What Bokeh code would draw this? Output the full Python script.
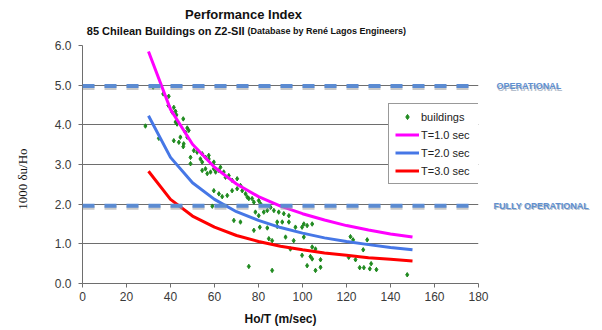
from bokeh.plotting import figure
from bokeh.layouts import column, row
from bokeh.models import Range1d, FixedTicker, Span, Label, Legend, LegendItem, NumeralTickFormatter
from bokeh.embed import file_html
from bokeh.resources import INLINE

# ---------------- data ----------------
bld_x = [32.1, 28.6, 34.7, 36.7, 39.2, 39.0, 41.5, 42.3, 40.8, 42.7, 45.8, 42.3, 43.0, 47.6, 48.3,
         46.8, 44.5, 41.5, 43.8, 46.0, 45.8, 47.6, 50.6, 49.1, 52.1, 54.4, 55.9, 57.4, 53.6, 54.4,
         49.1, 59.7, 57.4, 54.4, 55.9, 56.7, 58.2, 59.7, 60.5, 62.0, 62.7, 64.2, 65.0, 66.5, 68.0,
         70.3, 59.7, 62.0, 63.5, 65.8, 68.0, 70.3, 71.8, 72.6, 74.1, 74.9, 75.6, 77.1, 77.9, 80.1,
         80.9, 78.6, 80.1, 82.4, 84.0, 85.5, 68.8, 71.8, 87.0, 89.2, 91.5, 93.8, 88.5, 90.8, 93.8,
         96.8, 99.8, 100.6, 102.1, 104.4, 92.3, 96.0, 100.6, 86.2, 94.5, 104.4, 105.9, 99.8, 103.6,
         108.2, 104.4, 102.1, 108.2, 105.9, 86.2, 121.8, 123.0, 129.4, 127.6, 121.0, 124.1, 126.0,
         127.9, 130.6, 131.2, 133.6, 147.6, 77.9, 80.6, 84.0, 88.5, 84.7, 75.6, 59.0]
bld_y = [4.95, 3.97, 3.66, 4.78, 4.72, 4.49, 4.44, 4.34, 4.32, 4.25, 4.15, 4.07, 4.02, 3.92, 3.86,
         3.81, 3.69, 3.60, 3.56, 3.52, 3.45, 3.69, 3.35, 3.18, 3.31, 3.27, 3.18, 3.14, 3.14, 3.06,
         3.02, 3.06, 3.23, 2.85, 2.89, 2.77, 2.81, 2.89, 2.81, 2.85, 2.93, 2.81, 2.68, 2.72, 2.60,
         2.64, 2.34, 2.26, 2.19, 2.22, 2.34, 2.39, 2.47, 2.34, 2.26, 2.18, 2.14, 2.14, 2.05, 2.09,
         2.01, 1.80, 1.71, 1.80, 1.84, 1.92, 1.59, 1.55, 1.84, 1.80, 1.76, 1.71, 1.55, 1.55, 1.55,
         1.42, 1.42, 1.50, 1.46, 1.50, 1.17, 1.08, 1.17, 1.08, 0.87, 0.92, 0.87, 0.71, 0.68,
         0.60, 0.62, 0.45, 0.41, 0.33, 0.33, 1.18, 1.10, 1.10, 0.85, 0.66, 0.60, 0.40,
         0.40, 0.37, 0.50, 0.35, 0.22, 1.34, 1.42, 1.40, 1.44, 1.13, 0.43, 1.95]

curve_x = [30, 40, 50, 60, 70, 80, 90, 100, 110, 120, 130, 140, 150]
t1_y = [5.85, 4.39, 3.51, 2.93, 2.51, 2.19, 1.95, 1.76, 1.60, 1.46, 1.35, 1.25, 1.17]
t2_y = [4.23, 3.18, 2.54, 2.12, 1.81, 1.59, 1.41, 1.27, 1.15, 1.06, 0.98, 0.91, 0.85]
t3_y = [2.83, 2.12, 1.70, 1.42, 1.21, 1.06, 0.94, 0.85, 0.77, 0.71, 0.65, 0.61, 0.57]

x_ticks = [0, 20, 40, 60, 80, 100, 120, 140, 160, 180]
y_ticks = [0, 1, 2, 3, 4, 5, 6]
operational_level = 4.98
fully_operational_level = 1.96

SANS = "Liberation Sans"


def bare(width, height, xr, yr, **kw):
    f = figure(width=width, height=height, output_backend="svg", toolbar_location=None,
               x_range=xr, y_range=yr, x_axis_type=None, y_axis_type=None,
               min_border_left=0, min_border_right=0, **kw)
    f.outline_line_color = None
    f.grid.visible = False
    f.background_fill_color = "white"
    f.border_fill_color = "white"
    return f


def lab(f, x, y, text, size, color="#111111", font=SANS, style="normal", align="center",
        baseline="middle"):
    f.add_layout(Label(x=x, y=y, text=text, text_font=font, text_font_size=size,
                       text_color=color, text_font_style=style, text_align=align,
                       text_baseline=baseline))


# ---------------- header (titles) ----------------
head = bare(602, 37, Range1d(0, 602), Range1d(0, 37), min_border_top=0, min_border_bottom=0)
lab(head, 243, 23, "Performance Index", "13px", style="bold")
lab(head, 244, 7, "85 Chilean Buildings on Z2-SII", "11px", style="bold", align="right")
lab(head, 247, 7, "(Database by René Lagos Engineers)", "9px", style="bold", align="left")

# ---------------- main chart ----------------
p = figure(width=492, height=293, output_backend="svg", toolbar_location=None,
           x_range=Range1d(0, 180), y_range=Range1d(0, 6),
           min_border_left=82, min_border_right=14, min_border_top=8, min_border_bottom=47)
p.outline_line_color = None
p.background_fill_color = "white"
p.border_fill_color = "white"

for ax in (p.xaxis[0], p.yaxis[0]):
    ax.axis_line_color = "#6e6e6e"
    ax.major_tick_line_color = "#6e6e6e"
    ax.major_tick_out = 4
    ax.major_tick_in = 0
    ax.minor_tick_line_color = None
    ax.major_label_text_font = SANS
    ax.major_label_text_font_size = "12px"
    ax.major_label_text_color = "#3a3a3a"
p.xaxis.ticker = FixedTicker(ticks=x_ticks)
p.yaxis.ticker = FixedTicker(ticks=y_ticks)
p.yaxis.formatter = NumeralTickFormatter(format="0.0")
p.xaxis.major_label_standoff = 4
p.yaxis.major_label_standoff = 7
p.xaxis.axis_label = "Ho/T (m/sec)"
p.xaxis.axis_label_text_font = SANS
p.xaxis.axis_label_text_font_size = "12px"
p.xaxis.axis_label_text_font_style = "bold"
p.xaxis.axis_label_text_color = "#111111"
p.xaxis.axis_label_standoff = 8
p.yaxis.axis_label = "1000 δu/Ho" + "\u00a0" * 9
p.yaxis.axis_label_text_font = "Liberation Serif"
p.yaxis.axis_label_text_font_size = "13px"
p.yaxis.axis_label_text_font_style = "normal"
p.yaxis.axis_label_text_color = "#111111"
p.yaxis.axis_label_standoff = 22
p.xgrid.grid_line_color = None
p.ygrid.grid_line_color = "#6e6e6e"
p.ygrid.grid_line_width = 1

for lvl in (operational_level, fully_operational_level):
    p.add_layout(Span(location=lvl - 0.05, dimension="width", line_color="#9c9c9c",
                      line_alpha=0.55, line_width=4, line_dash="12 10"))
    p.add_layout(Span(location=lvl, dimension="width", line_color="#5b8bd2",
                      line_width=4, line_dash="12 10"))

r_b = p.scatter(bld_x, bld_y, marker="diamond", size=4.5, color="#1f8a1f")
r1 = p.line(curve_x, t1_y, line_color="#ff00ff", line_width=3)
r2 = p.line(curve_x, t2_y, line_color="#4677e6", line_width=3)
r3 = p.line(curve_x, t3_y, line_color="#ff0000", line_width=3)

legend = Legend(items=[LegendItem(label="buildings", renderers=[r_b]),
                       LegendItem(label="T=1.0 sec", renderers=[r1]),
                       LegendItem(label="T=2.0 sec", renderers=[r2]),
                       LegendItem(label="T=3.0 sec", renderers=[r3])],
                location=(306, 99), orientation="vertical",
                label_text_font=SANS, label_text_font_size="11px", label_text_color="#222222",
                glyph_width=24, glyph_height=13, label_height=13, label_width=68, label_standoff=2,
                spacing=5, padding=6, margin=0,
                border_line_color="#333333", border_line_width=1,
                background_fill_color="white", background_fill_alpha=1)
p.add_layout(legend, "center")

# ---------------- right margin (level names) ----------------
side = bare(110, 293, Range1d(0, 110), p.y_range, min_border_top=8, min_border_bottom=47)
for yv, txt, xv in ((operational_level, "OPERATIONAL", 4), (fully_operational_level, "FULLY OPERATIONAL", 1)):
    lab(side, xv + 1, yv - 0.04, txt, "9px", color="#b4becc", style="bold", align="left")
    lab(side, xv, yv, txt, "9px", color="#5f8fd0", style="bold", align="left")

layout = column(head, row(p, side, spacing=0), spacing=0)
open("out.html", "w").write(file_html(layout, INLINE))
